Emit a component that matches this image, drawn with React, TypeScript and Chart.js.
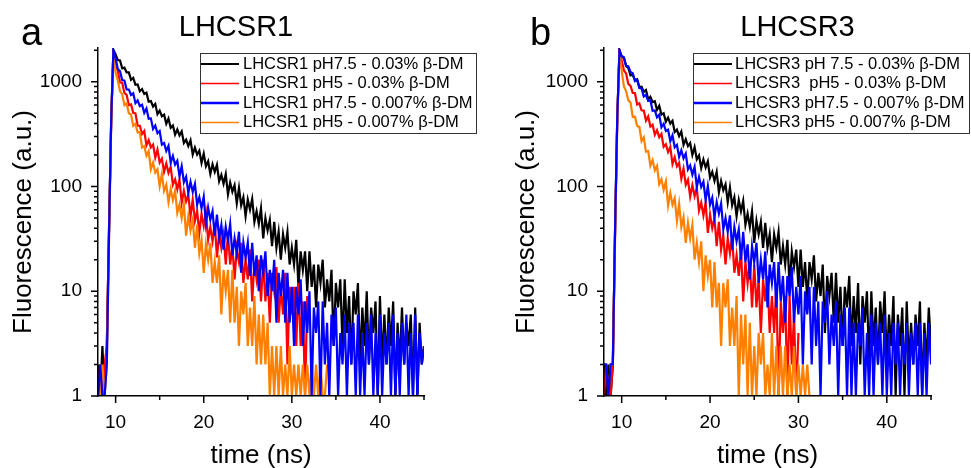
import React, { useEffect, useRef } from "react";
import { Chart, registerables } from "chart.js";

Chart.register(...registerables);

const FONT = '"Liberation Sans", Arial, Helvetica, sans-serif';

// time grid of the decay traces (ns)
const T_START_NS = 8;
const T_STEP_NS = 0.25;

const X_MIN = 8;
const X_MAX = 45;
const Y_MIN = 1;
const Y_MAX = 2100;
const X_MAJOR_TICKS = [10, 20, 30, 40];
const X_MINOR_TICKS = [15, 25, 35, 45];
const Y_MAJOR_TICKS = [1, 10, 100, 1000];
const Y_MINOR_TICKS = [2, 3, 4, 5, 6, 7, 8, 9, 20, 30, 40, 50, 60, 70, 80, 90, 200, 300, 400, 500, 600, 700, 800, 900, 2000];

const SERIES_COLORS = ["#000000", "#ff0000", "#0000ff", "#ff8000"];
const LINE_WIDTHS = [2.2, 2.2, 2.2, 2.2];
const LEGEND_WIDTHS = [2, 1.5, 2.5, 1.5];
const DRAW_ORDER = [4, 3, 1, 2];

const L1_LABELS = [
  "LHCSR1 pH7.5 - 0.03% β-DM",
  "LHCSR1 pH5 - 0.03% β-DM",
  "LHCSR1 pH7.5 - 0.007% β-DM",
  "LHCSR1 pH5 - 0.007% β-DM",
];
const L3_LABELS = [
  "LHCSR3 pH 7.5 - 0.03% β-DM",
  "LHCSR3  pH5 - 0.03% β-DM",
  "LHCSR3 pH7.5 - 0.007% β-DM",
  "LHCSR3 pH5 - 0.007% β-DM",
];

// ---------- LHCSR1 (counts every 0.25 ns from 8 ns) ----------
const L1_PH75_003 = [
  2, 1, 3, 1, 3, 40, 450, 2010,
  1821, 1609, 1594, 1341, 1363, 1229, 1228, 1044,
  1088, 934, 941, 811, 851, 764, 787, 646,
  653, 580, 615, 491, 530, 469, 485, 397,
  446, 364, 383, 313, 350, 308, 336, 261,
  280, 243, 276, 202, 235, 202, 220, 168,
  206, 156, 174, 132, 163, 138, 161, 112,
  129, 106, 131, 84, 109, 89, 103, 69,
  97, 66, 79, 52, 75, 60, 76, 46,
  58, 44, 62, 32, 50, 38, 48, 27,
  46, 26, 37, 20, 35, 26, 37, 18,
  26, 18, 31, 11, 24, 16, 24, 10,
  24, 11, 18, 7, 18, 12, 20, 7,
  13, 8, 16, 3, 12, 7, 13, 3,
  13, 4, 9, 2, 10, 6, 12, 2,
  7, 3, 10, 2, 7, 4, 8, 1,
  9, 2, 6, 2, 7, 3, 8, 1,
  5, 2, 7, 2, 5, 3, 6, 1,
  7, 1, 5, 2, 3,
];
const L1_PH5_003 = [
  1, 2, 1, 2, 3, 38, 430, 1990,
  1477, 1269, 985, 975, 783, 749, 599, 607,
  506, 500, 380, 380, 317, 338, 247, 277,
  236, 251, 189, 225, 169, 184, 138, 166,
  135, 154, 104, 117, 94, 116, 70, 91,
  72, 83, 52, 75, 47, 58, 36, 55,
  42, 56, 31, 41, 30, 45, 21, 36,
  26, 35, 18, 35, 18, 27, 13, 26,
  19, 29, 12, 20, 13, 25, 8, 19,
  13, 20, 8, 20, 8, 15, 5, 15,
  10, 17, 5, 11, 6, 15, 2, 11,
  6, 11, 3, 12, 3, 8, 1, 9,
];
const L1_PH75_0007 = [
  1, 2, 1, 1, 2, 35, 440, 2000,
  1678, 1325, 1258, 1037, 1025, 845, 844, 747,
  776, 625, 663, 585, 603, 505, 556, 444,
  447, 355, 382, 323, 339, 251, 260, 218,
  244, 169, 196, 162, 176, 125, 156, 110,
  124, 87, 111, 89, 106, 67, 79, 62,
  80, 44, 63, 48, 58, 34, 54, 32,
  43, 25, 41, 31, 44, 22, 32, 23,
  37, 15, 29, 21, 29, 14, 29, 14,
  22, 10, 22, 15, 24, 9, 16, 10,
  20, 5, 15, 9, 16, 5, 15, 5,
  11, 3, 11, 6, 13, 3, 8, 4,
  10, 1, 7, 4, 8, 1, 8, 2,
  5, 1, 6, 3, 7, 1, 4, 2,
  6, 1, 5, 2, 5, 1, 6, 1,
  4, 1, 5, 2, 6, 1, 4, 1,
  6, 1, 4, 2, 5, 1, 6, 1,
  4, 1, 5, 2, 6, 1, 4, 1,
  6, 1, 4, 2, 3,
];
const L1_PH5_0007 = [
  1, 1, 2, 1, 2, 30, 400, 1950,
  1224, 1028, 813, 758, 597, 623, 500, 485,
  379, 396, 328, 331, 236, 243, 197, 218,
  146, 169, 136, 146, 101, 131, 91, 104,
  71, 94, 74, 91, 56, 67, 50, 67,
  34, 52, 38, 48, 26, 43, 23, 31,
  15, 28, 20, 29, 12, 19, 12, 22,
  6, 16, 10, 16, 5, 16, 5, 11,
  3, 10, 6, 12, 3, 7, 3, 9,
  2, 6, 2, 6, 2, 5, 1, 3,
  1, 3, 1, 3, 1, 2, 1, 3,
  1, 2, 1, 2, 1, 2, 1, 2,
  1, 2, 1, 2, 1, 2, 1, 1,
  2,
];

// ---------- LHCSR3 (counts every 0.25 ns from 8 ns) ----------
const L3_PH75_003 = [
  2, 1, 2, 1, 2, 38, 450, 2000,
  1728, 1692, 1410, 1356, 1150, 1167, 1037, 1056,
  889, 895, 801, 835, 680, 719, 640, 652,
  540, 590, 486, 501, 415, 455, 399, 424,
  332, 349, 303, 335, 250, 283, 243, 260,
  200, 238, 182, 198, 150, 181, 152, 174,
  122, 138, 113, 138, 88, 113, 92, 105,
  71, 98, 66, 79, 52, 74, 58, 73,
  43, 55, 41, 58, 29, 47, 35, 46,
  26, 45, 26, 35, 19, 35, 26, 37,
  18, 27, 18, 31, 11, 24, 17, 25,
  11, 25, 11, 19, 8, 19, 13, 22,
  8, 15, 9, 18, 4, 14, 9, 15,
  5, 15, 5, 11, 3, 11, 7, 14,
  3, 9, 4, 12, 2, 9, 5, 10,
  2, 10, 3, 7, 2, 8, 4, 10,
  2, 6, 3, 9, 1, 6, 3, 7,
  1, 8, 2, 5, 2, 6, 3, 8,
  1, 5, 2, 7, 3,
];
const L3_PH5_003 = [
  1, 2, 1, 1, 2, 36, 430, 1990,
  1593, 1286, 1201, 953, 915, 782, 781, 606,
  622, 534, 531, 426, 467, 374, 389, 312,
  345, 296, 318, 239, 253, 213, 238, 164,
  190, 156, 168, 119, 148, 104, 116, 80,
  103, 81, 97, 59, 70, 53, 70, 36,
  54, 40, 50, 27, 46, 25, 34, 18,
  32, 23, 33, 15, 22, 14, 25, 8,
  19, 12, 19, 7, 18, 7, 13, 4,
  13, 8, 14, 4, 9, 4, 12, 1,
  8, 4, 9, 1, 9, 2, 6, 1,
  4,
];
const L3_PH75_0007 = [
  2, 2, 1, 2, 2, 38, 450, 2000,
  1758, 1717, 1419, 1408, 1239, 1208, 1014, 1042,
  871, 863, 724, 749, 655, 665, 529, 532,
  458, 484, 368, 397, 339, 349, 271, 308,
  237, 250, 192, 222, 186, 206, 146, 159,
  130, 154, 99, 123, 99, 111, 74, 101,
  67, 78, 51, 71, 55, 69, 39, 50,
  37, 53, 25, 41, 30, 39, 20, 37,
  19, 28, 13, 27, 19, 29, 12, 20,
  13, 24, 7, 18, 12, 19, 7, 19,
  8, 14, 5, 14, 9, 17, 5, 11,
  6, 14, 2, 10, 6, 11, 2, 11,
  3, 8, 1, 8, 5, 10, 2, 6,
  3, 8, 1, 6, 3, 7, 1, 7,
  1, 5, 1, 5, 3, 7, 1, 4,
  1, 6, 1, 5, 2, 5, 1, 6,
  1, 4, 1, 5, 2, 5, 1, 4,
  2, 5, 1, 4, 2, 5, 1, 5,
  1, 4, 1, 5, 2,
];
const L3_PH5_0007 = [
  1, 1, 1, 2, 2, 30, 400, 1950,
  1273, 904, 814, 664, 636, 463, 464, 378,
  371, 271, 294, 215, 218, 158, 179, 143,
  157, 105, 117, 93, 112, 66, 87, 67,
  77, 47, 68, 41, 51, 29, 45, 32,
  43, 20, 29, 19, 30, 10, 22, 14,
  20, 7, 19, 7, 12, 3, 12, 7,
  13, 3, 7, 3, 9, 1, 6, 2,
  6, 1, 5, 1, 3, 1, 4, 2,
  4, 1, 2, 1, 4, 1, 3, 1,
  3, 1, 3, 1, 2, 1, 3, 1,
  2, 1, 2, 1, 2, 1, 1, 1,
  1,
];

type PanelCfg = {
  letter: string;
  title: string;
  titleX: number;
  letterX: number;
  labels: string[];
  series: number[][];
  width: number;
  padLeft: number;
  padRight: number;
  yAxisWidth: number;
  legendLeft: number;
  legendRight: number;
  legendTextDx: number;
};

const PANEL_A: PanelCfg = {
  letter: "a",
  title: "LHCSR1",
  titleX: 236,
  letterX: 21,
  labels: L1_LABELS,
  series: [L1_PH75_003, L1_PH5_003, L1_PH75_0007, L1_PH5_0007],
  width: 485,
  padLeft: 8,
  padRight: 61,
  yAxisWidth: 90,
  legendLeft: 200,
  legendRight: 476,
  legendTextDx: 43,
};

const PANEL_B: PanelCfg = {
  letter: "b",
  title: "LHCSR3",
  titleX: 312.5,
  letterX: 45,
  labels: L3_LABELS,
  series: [L3_PH75_003, L3_PH5_003, L3_PH75_0007, L3_PH5_0007],
  width: 486,
  padLeft: 26.4,
  padRight: 40,
  yAxisWidth: 92.6,
  legendLeft: 208,
  legendRight: 484,
  legendTextDx: 42,
};

function Panel({ cfg, left }: { cfg: PanelCfg; left: number }) {
  const ref = useRef<HTMLCanvasElement | null>(null);

  useEffect(() => {
    const canvas = ref.current;
    if (!canvas) return;

    const decor = {
      id: "panelDecor",
      afterDraw(chart: any) {
        const { ctx, chartArea: ca, scales } = chart;
        const xs = scales.x;
        const ys = scales.y;
        ctx.save();
        // tick marks (outward)
        ctx.strokeStyle = "#000";
        ctx.lineWidth = 1.5;
        ctx.beginPath();
        X_MAJOR_TICKS.forEach((v) => {
          const px = xs.getPixelForValue(v);
          ctx.moveTo(px, ca.bottom);
          ctx.lineTo(px, ca.bottom + 7);
        });
        X_MINOR_TICKS.forEach((v) => {
          const px = xs.getPixelForValue(v);
          ctx.moveTo(px, ca.bottom);
          ctx.lineTo(px, ca.bottom + 4);
        });
        Y_MAJOR_TICKS.forEach((v) => {
          const py = ys.getPixelForValue(v);
          ctx.moveTo(ca.left, py);
          ctx.lineTo(ca.left - 7, py);
        });
        Y_MINOR_TICKS.forEach((v) => {
          const py = ys.getPixelForValue(v);
          ctx.moveTo(ca.left, py);
          ctx.lineTo(ca.left - 4, py);
        });
        ctx.stroke();

        // legend box
        const L = cfg.legendLeft;
        const R = cfg.legendRight;
        const T = 53;
        const B = 133;
        ctx.fillStyle = "#ffffff";
        ctx.fillRect(L, T, R - L, B - T);
        ctx.strokeStyle = "#333";
        ctx.lineWidth = 1;
        ctx.strokeRect(L + 0.5, T + 0.5, R - L, B - T);
        ctx.font = `16.5px ${FONT}`;
        ctx.textBaseline = "middle";
        ctx.textAlign = "left";
        cfg.labels.forEach((lab, k) => {
          const yy = 64 + k * 19.5;
          ctx.strokeStyle = SERIES_COLORS[k];
          ctx.lineWidth = LEGEND_WIDTHS[k];
          ctx.beginPath();
          ctx.moveTo(L + 1, yy);
          ctx.lineTo(L + 39, yy);
          ctx.stroke();
          ctx.fillStyle = "#000";
          ctx.fillText(lab, L + cfg.legendTextDx, yy);
        });

        // panel title and letter
        ctx.fillStyle = "#000";
        ctx.textBaseline = "alphabetic";
        ctx.font = `29px ${FONT}`;
        ctx.textAlign = "center";
        ctx.fillText(cfg.title, cfg.titleX, 36);
        ctx.font = `38px ${FONT}`;
        ctx.textAlign = "left";
        ctx.fillText(cfg.letter, cfg.letterX, 45);
        ctx.restore();
      },
    };

    const datasets = cfg.series.map((vals, k) => ({
      label: cfg.labels[k],
      data: vals.map((v, i) => ({ x: T_START_NS + i * T_STEP_NS, y: v })),
      borderColor: SERIES_COLORS[k],
      backgroundColor: SERIES_COLORS[k],
      borderWidth: LINE_WIDTHS[k],
      pointRadius: 0,
      tension: 0,
      fill: false,
      order: DRAW_ORDER[k],
    }));

    const chart = new Chart(canvas, {
      type: "line",
      data: { datasets },
      options: {
        animation: false,
        responsive: false,
        devicePixelRatio: 1,
        events: [],
        layout: { padding: { left: cfg.padLeft, right: cfg.padRight, top: 48, bottom: 0 } },
        plugins: {
          legend: { display: false },
          tooltip: { enabled: false },
          title: { display: false },
        },
        scales: {
          x: {
            type: "linear",
            min: X_MIN,
            max: X_MAX,
            afterBuildTicks: (s: any) => {
              s.ticks = X_MAJOR_TICKS.map((v) => ({ value: v }));
            },
            afterFit: (s: any) => {
              s.height = 72;
            },
            grid: { display: false, drawTicks: false },
            border: { display: true, color: "#000", width: 1.5, z: 1 },
            ticks: {
              padding: 15.6,
              color: "#000",
              font: { family: FONT, size: 19 },
              maxRotation: 0,
              autoSkip: false,
              callback: (v: any) => String(v),
            },
            title: {
              display: true,
              text: "time (ns)",
              color: "#000",
              font: { family: FONT, size: 26, lineHeight: 0.9 },
              padding: 0,
            },
          },
          y: {
            type: "logarithmic",
            min: Y_MIN,
            max: Y_MAX,
            afterBuildTicks: (s: any) => {
              s.ticks = Y_MAJOR_TICKS.map((v) => ({ value: v, major: true }));
            },
            afterFit: (s: any) => {
              s.width = cfg.yAxisWidth;
            },
            grid: { display: false, drawTicks: false },
            border: { display: true, color: "#000", width: 1.5, z: 1 },
            ticks: {
              padding: 16,
              color: "#000",
              font: { family: FONT, size: 19 },
              autoSkip: false,
              callback: (v: any) => String(v),
            },
            title: {
              display: true,
              text: "Fluorescence (a.u.)",
              color: "#000",
              font: { family: FONT, size: 26 },
              padding: 0,
            },
          },
        },
      } as any,
      plugins: [decor],
    });

    return () => chart.destroy();
  }, [cfg]);

  return (
    <canvas
      ref={ref}
      width={cfg.width}
      height={468}
      style={{ position: "absolute", left, top: 0, display: "block" }}
    />
  );
}

export default function App() {
  return (
    <div
      style={{
        position: "fixed",
        left: 0,
        top: 0,
        width: 971,
        height: 468,
        background: "#ffffff",
        overflow: "hidden",
      }}
    >
      <Panel cfg={PANEL_A} left={0} />
      <Panel cfg={PANEL_B} left={485} />
    </div>
  );
}
